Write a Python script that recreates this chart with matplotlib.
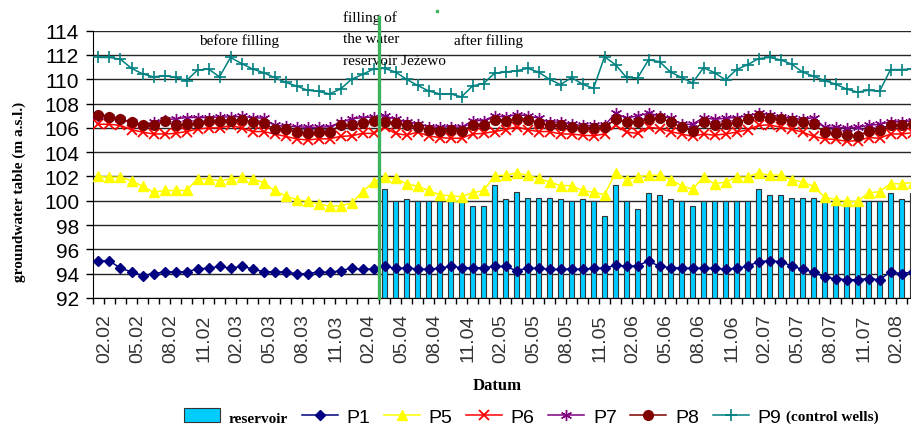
import numpy as np
import matplotlib.pyplot as plt
from matplotlib.transforms import ScaledTranslation, blended_transform_factory

# months 02.2002 .. 04.2008, one category per month
months = [f"{m:02d}.{y % 100:02d}" for y in range(2002, 2009) for m in range(1, 13)]
months = months[months.index("02.02"):months.index("04.08") + 1]
filling_month = "04.04"

p9 = [111.8, 111.8, 111.65, 110.9, 110.45, 110.2, 110.3, 110.15, 109.9, 110.75,
      110.85, 110.2, 111.8, 111.3, 110.85, 110.55, 110.15, 109.75, 109.45, 109.1,
      109.0, 108.8, 109.2, 110.0, 110.4, 110.85, 110.9, 110.6, 110.0, 109.5,
      109.05, 108.8, 108.8, 108.55, 109.45, 109.65, 110.5, 110.6, 110.7, 110.9,
      110.6, 110.0, 109.55, 110.15, 109.6, 109.25, 111.85, 111.2, 110.15, 110.1,
      111.6, 111.45, 110.6, 110.15, 109.7, 110.95, 110.55, 109.95, 110.8, 111.2,
      111.7, 111.8, 111.6, 111.25, 110.6, 110.25, 109.9, 109.6, 109.2, 108.95,
      109.1, 109.0, 110.8, 110.8, 110.85]

p8 = [107.05, 106.9, 106.75, 106.45, 106.2, 106.2, 106.55, 106.2, 106.3, 106.4,
      106.55, 106.6, 106.55, 106.65, 106.45, 106.4, 105.9, 105.9, 105.7, 105.55,
      105.7, 105.7, 106.2, 106.25, 106.4, 106.55, 106.45, 106.4, 106.25, 106.1,
      105.85, 105.75, 105.85, 105.75, 106.2, 106.25, 106.65, 106.6, 106.75, 106.65,
      106.4, 106.2, 106.25, 106.1, 106.0, 106.0, 106.05, 106.7, 106.45, 106.5,
      106.75, 106.8, 106.5, 106.05, 105.75, 106.5, 106.25, 106.3, 106.45, 106.7,
      106.95, 106.85, 106.75, 106.6, 106.45, 106.3, 105.65, 105.55, 105.4, 105.35,
      105.75, 105.85, 106.25, 106.25, 106.3]

p7 = [107.0, 106.9, 106.75, 106.45, 106.25, 106.45, 106.65, 106.75, 106.85, 106.85,
      106.85, 106.9, 106.9, 106.95, 106.85, 106.8, 106.2, 106.15, 106.1, 106.05,
      106.05, 106.1, 106.45, 106.75, 106.85, 106.9, 107.0, 106.7, 106.5, 106.35,
      106.1, 106.05, 106.1, 106.05, 106.6, 106.6, 107.0, 106.9, 107.1, 107.0,
      106.8, 106.45, 106.5, 106.3, 106.2, 106.2, 106.2, 107.2, 106.8, 107.0,
      107.2, 107.0, 106.8, 106.3, 106.3, 106.85, 106.7, 106.8, 106.85, 107.0,
      107.2, 107.1, 106.9, 106.8, 106.7, 106.85, 106.05, 106.05, 106.0, 106.05,
      106.2, 106.3, 106.5, 106.5, 106.6]

p6 = [106.3, 106.3, 106.2, 105.85, 105.65, 105.5, 105.5, 105.55, 105.7, 105.9,
      106.0, 106.0, 106.2, 106.0, 105.7, 105.7, 105.5, 105.3, 105.1, 105.0,
      105.1, 105.1, 105.3, 105.35, 105.55, 105.55, 106.05, 105.55, 105.4, 105.65,
      105.35, 105.2, 105.15, 105.15, 105.5, 105.55, 105.7, 105.85, 106.1, 105.85,
      105.7, 105.7, 105.5, 105.5, 105.4, 105.35, 105.5, 106.2, 105.65, 105.55,
      106.05, 105.95, 105.7, 105.5, 105.3, 105.5, 105.4, 105.5, 105.65, 105.85,
      106.2, 106.25, 106.05, 105.9, 105.65, 105.3, 105.1, 105.05, 104.9, 104.95,
      105.2, 105.15, 105.5, 105.5, 105.6]

p5 = [102.0, 101.95, 101.95, 101.65, 101.2, 100.7, 100.85, 100.85, 100.85, 101.8,
      101.8, 101.65, 101.8, 101.95, 101.8, 101.5, 100.85, 100.4, 100.1, 99.95,
      99.75, 99.55, 99.6, 99.8, 100.75, 101.55, 101.95, 101.85, 101.4, 101.2,
      100.85, 100.5, 100.4, 100.35, 100.65, 100.85, 102.05, 102.1, 102.3, 102.1,
      101.85, 101.55, 101.25, 101.25, 100.85, 100.7, 100.5, 102.3, 101.75, 101.95,
      102.1, 102.1, 101.75, 101.25, 100.95, 101.95, 101.4, 101.55, 101.95, 101.95,
      102.3, 102.1, 102.1, 101.75, 101.55, 101.2, 100.3, 100.1, 99.95, 99.95,
      100.65, 100.75, 101.4, 101.4, 101.5]

p1 = [95.05, 95.05, 94.45, 94.15, 93.85, 94.0, 94.15, 94.15, 94.15, 94.4,
      94.45, 94.6, 94.45, 94.6, 94.4, 94.15, 94.15, 94.15, 94.0, 94.0,
      94.15, 94.1, 94.25, 94.45, 94.35, 94.4, 94.6, 94.45, 94.45, 94.4,
      94.35, 94.45, 94.6, 94.5, 94.45, 94.5, 94.6, 94.6, 94.25, 94.45,
      94.45, 94.35, 94.35, 94.4, 94.35, 94.45, 94.45, 94.7, 94.6, 94.65,
      95.05, 94.6, 94.5, 94.45, 94.45, 94.45, 94.45, 94.35, 94.45, 94.6,
      95.0, 95.05, 95.0, 94.65, 94.35, 94.15, 93.7, 93.6, 93.5, 93.5,
      93.6, 93.5, 94.15, 94.0, 94.15]

# reservoir level, from 04.04 on
reservoir = [100.95, 100.0, 100.15, 100.0, 100.0, 100.0, 100.0, 99.95, 99.55, 99.55,
             101.3, 100.15, 100.75, 100.25, 100.25, 100.25, 100.15, 100.0, 100.15, 100.0,
             98.75, 101.3, 100.0, 99.3, 100.65, 100.5, 100.15, 100.0, 99.55, 100.0,
             100.0, 100.0, 100.0, 100.0, 100.95, 100.5, 100.5, 100.25, 100.25, 100.25,
             100.0, 100.0, 99.9, 99.9, 100.0, 100.0, 100.65, 100.15, 100.65]

y_ticks = list(range(92, 115, 2))

SANS = "Liberation Sans"
SERIF = "Liberation Serif"

fig = plt.figure(figsize=(9.12, 4.31), dpi=100)
ax = fig.add_axes([93 / 912, 132 / 431, 825 / 912, 267.3 / 431])

x = np.arange(len(months))
i0 = months.index(filling_month)
xr = x[i0:i0 + len(reservoir)]
base = y_ticks[0]

ax.bar(xr, np.array(reservoir) - base, bottom=base, width=0.5, color="#00ccff",
       edgecolor="#333333", linewidth=0.8, zorder=2, label="reservoir")

series = [
    (p1, "P1", "#000080", "D", 5, 1.0),
    (p5, "P5", "#ffff00", "^", 7, 1.0),
    (p6, "P6", "#ff0000", "x", 7, 1.3),
    (p7, "P7", "#800080", (6, 2, 0), 8, 1.0),
    (p8, "P8", "#800000", "o", 7, 1.0),
    (p9, "P9", "#008080", "+", 8, 1.2),
]
for vals, name, col, mk, ms, mew in series:
    ax.plot(x, vals, color=col, marker=mk, ms=ms, mew=mew, lw=1.1, label=name, zorder=3)

# filling line
trans = blended_transform_factory(ax.transData, ax.transAxes)
ax.plot([i0 - 0.5, i0 - 0.5], [0, 1.05], transform=trans, color="#3cb35a", lw=2.4,
        zorder=5, clip_on=False)
ax.plot([30.8], [115.6], marker="s", ms=2, color="#3cb35a", clip_on=False)

ax.set_xlim(-0.5, len(months) - 0.5)
ax.set_ylim(92, 114)
ax.set_yticks(y_ticks)
ax.set_yticklabels([str(v) for v in y_ticks], fontsize=15, family=SANS)
ax.yaxis.grid(True, color="#262626", lw=1.0)
ax.set_axisbelow(True)
for s in ["top", "right"]:
    ax.spines[s].set_visible(False)
ax.spines["left"].set_color("black")
ax.spines["bottom"].set_color("black")
ax.tick_params(axis="y", length=5, width=1, pad=5)

ax.set_xticks(x[::3])
ax.set_xticklabels(months[::3], rotation=90, fontsize=14, family=SANS, color="#333333")
ax.set_xticks(np.arange(-0.5, len(months), 1), minor=True)
ax.tick_params(axis="x", which="major", length=0, pad=11)
ax.tick_params(axis="x", which="minor", length=4, width=1)
off = ScaledTranslation(0.065, 0, fig.dpi_scale_trans)
for lab in ax.get_xticklabels():
    lab.set_transform(lab.get_transform() + off)

# annotations
ax.text(12.8, 113.2, "before filling", ha="center", va="center", family=SERIF, fontsize=11)
ax.text(35.5, 113.2, "after filling", ha="center", va="center", family=SERIF, fontsize=11)
ax.text(22.2, 115.7, "filling of\nthe water\nreservoir Jeżewo", ha="left", va="top",
        family=SERIF, fontsize=11, linespacing=1.85)

fig.text(19 / 912, 1 - 192 / 431, "groundwater table (m a.s.l.)", rotation=90,
         ha="center", va="center", family=SERIF, fontweight="bold", fontsize=11)
fig.text(497 / 912, 1 - 386 / 431, "Datum", ha="center", va="center",
         family=SERIF, fontweight="bold", fontsize=12)

h, l = ax.get_legend_handles_labels()
h = [h[-1]] + h[:-1]
l = [l[-1]] + l[:-1]
leg = fig.legend(h, l, loc="center left", bbox_to_anchor=(184 / 912, 1 - 418 / 431),
                 ncol=7, frameon=False, prop={"family": SANS, "size": 14},
                 handlelength=1.85, handletextpad=0.45, columnspacing=0.7,
                 borderpad=0, borderaxespad=0)
leg.get_texts()[0].set_fontfamily(SERIF)
leg.get_texts()[0].set_fontweight("bold")
leg.get_texts()[0].set_fontsize(11)
fig.text(786 / 912, 1 - 417 / 431, "(control wells)", ha="left", va="center",
         family=SERIF, fontweight="bold", fontsize=11)

fig.savefig("out.png", dpi=100)
